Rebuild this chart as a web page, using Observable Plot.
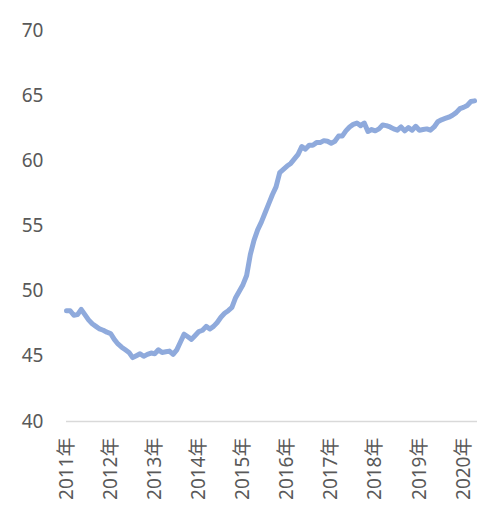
<!DOCTYPE html>
<html>
<head>
<meta charset="utf-8">
<script src="https://cdn.jsdelivr.net/npm/d3@7"></script>
<script src="https://cdn.jsdelivr.net/npm/@observablehq/plot@0.6"></script>
<style>
  html, body { margin: 0; padding: 0; background: #fff; }
  #chart svg { display: block; }
</style>
</head>
<body>
<div id="chart"></div>
<script>
// Monthly values, Jan 2011 onward
const values = [
  48.5, 48.5, 48.15, 48.2, 48.6, 48.2, 47.8, 47.5, 47.3, 47.1, 47.0, 46.85,
  46.75, 46.3, 45.95, 45.7, 45.5, 45.3, 44.9, 45.05, 45.2, 45.0, 45.15, 45.25,
  45.2, 45.5, 45.3, 45.35, 45.4, 45.15, 45.5, 46.1, 46.7, 46.5, 46.3, 46.6,
  46.9, 47.0, 47.3, 47.1, 47.3, 47.6, 48.0, 48.3, 48.5, 48.75, 49.5, 50.0,
  50.5, 51.2, 52.8, 53.9, 54.7, 55.3, 56.0, 56.7, 57.4, 58.0, 59.1, 59.35,
  59.6, 59.8, 60.15, 60.5, 61.1, 60.9, 61.2, 61.2, 61.4, 61.4, 61.55, 61.5,
  61.35, 61.5, 61.9, 61.9, 62.3, 62.6, 62.8, 62.9, 62.7, 62.9, 62.25, 62.4,
  62.3, 62.45, 62.75, 62.7, 62.6, 62.45, 62.35, 62.6, 62.3, 62.55, 62.35, 62.65,
  62.35, 62.4, 62.45, 62.35, 62.6, 63.0, 63.15, 63.25, 63.35, 63.5, 63.7, 64.0,
  64.1, 64.25, 64.55, 64.6
];
const startYear = 2011;
const yearLabels = ["2011年","2012年","2013年","2014年","2015年","2016年","2017年","2018年","2019年","2020年"];
const yTicks = [40, 45, 50, 55, 60, 65, 70];

const data = values.map((v, i) => ({ m: i, v }));
const yearTicks = yearLabels.map((_, i) => i * 12);

const chart = Plot.plot({
  width: 477,
  height: 507,
  marginTop: 30,
  marginBottom: 86,
  marginLeft: 66,
  marginRight: 0,
  style: { fontFamily: "'Noto Sans', 'Noto Sans CJK SC', sans-serif", color: "#595959", background: "#fff" },
  x: { domain: [0, 111.8] },
  y: { domain: [40, 70] },
  marks: [
    Plot.axisY({
      ticks: yTicks,
      tickSize: 0,
      tickPadding: 23,
      fontSize: 19,
      label: null,
      fill: "#595959"
    }),
    Plot.axisX({
      ticks: yearTicks,
      tickFormat: d => yearLabels[d / 12],
      tickRotate: -90,
      tickSize: 0,
      tickPadding: 16,
      fontSize: 19,
      label: null,
      fill: "#595959"
    }),
    Plot.ruleY([40], { stroke: "#D9D9D9", strokeWidth: 1.5 }),
    Plot.line(data, {
      x: "m",
      y: "v",
      stroke: "#8FAADC",
      strokeWidth: 5,
      strokeLinejoin: "round",
      strokeLinecap: "round"
    })
  ]
});
document.getElementById("chart").appendChild(chart);
</script>
</body>
</html>
